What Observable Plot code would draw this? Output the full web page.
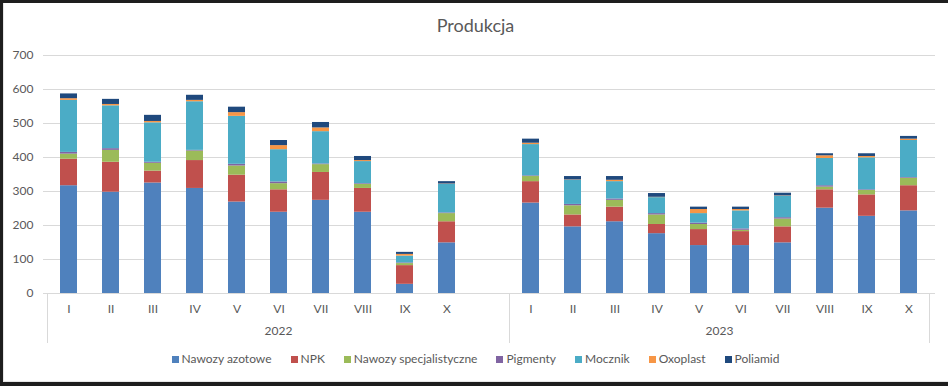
<!DOCTYPE html>
<html>
<head>
<meta charset="utf-8">
<script src="https://cdn.jsdelivr.net/npm/d3@7"></script>
<script src="https://cdn.jsdelivr.net/npm/@observablehq/plot@0.6"></script>
<style>
  html, body { margin: 0; padding: 0; }
  body { width: 948px; height: 386px; overflow: hidden; background: #1e1e1e; font-family: Lato, "Liberation Sans", sans-serif; position: relative; }
  #card { position: absolute; left: 3px; top: 3px; width: 945px; height: 379px; background: #fff; box-shadow: inset 1px 0 0 #e6e6e6, inset 0 -1px 0 #e6e6e6; }
  #title { position: absolute; left: 0; top: 11px; width: 100%; text-align: center; font-size: 18px; color: #595959; line-height: 22px; }
  #chart { position: absolute; left: 0; top: 37px; }
  #legend { position: absolute; left: 0; top: 348px; width: 100%; display: flex; justify-content: center; gap: 19px; font-size: 12px; color: #595959; line-height: 16px; }
  #legend .item { display: flex; align-items: center; gap: 3px; }
  #legend .sw { width: 7px; height: 7px; display: inline-block; }
</style>
</head>
<body>
<div id="card">
  <div id="title">Produkcja</div>
  <div id="chart"></div>
  <div id="legend"></div>
</div>
<script>
// ---- data ----
const months = ["I", "II", "III", "IV", "V", "VI", "VII", "VIII", "IX", "X"];
const years = ["2022", "2023"];
const series = ["Nawozy azotowe", "NPK", "Nawozy specjalistyczne", "Pigmenty", "Mocznik", "Oxoplast", "Poliamid"];
const colors = ["#4F81BD", "#C0504D", "#9BBB59", "#8064A2", "#4BACC6", "#F79646", "#1F497D"];
const yTicks = [0, 100, 200, 300, 400, 500, 600, 700];

// values: 2022 I..X, then 2023 I..X
const nawozyAzotowe = [317, 298, 325, 309, 269, 239, 274, 239, 27, 149, 266, 196, 211, 176, 141, 141, 149, 251, 227, 243];
const npk = [78, 88, 35, 82, 79, 66, 82, 70, 55, 62, 63, 35, 43, 27, 47, 41, 47, 54, 63, 74];
const nawozySpecjalistyczne = [15, 35, 23, 28, 27, 18, 23, 12, 6, 24, 15, 27, 20, 28, 15, 4, 23, 8, 13, 22];
const pigmenty = [5, 5, 3, 2, 5, 5, 2, 2, 2, 2, 2, 4, 4, 4, 4, 4, 4, 4, 2, 2];
const mocznik = [153, 126, 116, 143, 141, 95, 95, 65, 20, 84, 92, 71, 51, 47, 28, 53, 63, 80, 94, 109];
const oxoplast = [5, 4, 4, 4, 11, 12, 11, 3, 5, 1, 4, 1, 4, 1, 12, 4, 1, 8, 4, 4];
const poliamid = [14, 15, 18, 15, 16, 15, 16, 12, 6, 7, 12, 10, 11, 11, 7, 7, 8, 6, 8, 8];
const seriesValues = [nawozyAzotowe, npk, nawozySpecjalistyczne, pigmenty, mocznik, oxoplast, poliamid];

// category keys (2022 has one empty slot after X, as in the original)
const keys2022 = months.map(m => "2022|" + m).concat(["2022| "]);
const keys2023 = months.map(m => "2023|" + m);
const keys = keys2022.concat(keys2023);
const dataKeys = months.map(m => "2022|" + m).concat(keys2023);

const rows = [];
series.forEach((s, i) => {
  seriesValues[i].forEach((v, j) => rows.push({key: dataKeys[j], series: s, value: v}));
});

function groupAxis(index, scales, values, dimensions) {
  const sx = scales.x;
  const xf = typeof sx === "function" ? sx : sx.apply;
  const bw = typeof sx.bandwidth === "function" ? sx.bandwidth() : sx.bandwidth;
  const step = typeof sx.step === "function" ? sx.step() : sx.step;
  const sy = scales.y;
  const yf = typeof sy === "function" ? sy : sy.apply;
  const y0 = yf(0);
  const g = d3.create("svg:g");
  const groups = [keys2022, keys2023];
  const bounds = [];
  groups.forEach((ks, gi) => {
    const left = xf(ks[0]) + bw / 2 - step / 2;
    const right = xf(ks[ks.length - 1]) + bw / 2 + step / 2;
    if (gi === 0) bounds.push(left);
    bounds.push(right);
    g.append("text")
      .attr("x", (left + right) / 2)
      .attr("y", y0 + 38)
      .attr("text-anchor", "middle")
      .attr("dy", "0.35em")
      .attr("fill", "#595959")
      .attr("font-size", 12)
      .text(years[gi]);
  });
  bounds.forEach(b => {
    g.append("line")
      .attr("x1", b).attr("x2", b)
      .attr("y1", y0).attr("y2", y0 + 50)
      .attr("stroke", "#d9d9d9");
  });
  return g.node();
}

const plot = Plot.plot({
  width: 945,
  height: 310,
  marginTop: 15,
  marginBottom: 57,
  marginLeft: 40,
  marginRight: 13,
  style: {fontFamily: "Lato, 'Liberation Sans', sans-serif", fontSize: "12px", color: "#595959", background: "transparent"},
  x: {domain: keys, paddingInner: 0.59, paddingOuter: 0.295, align: 0.5, axis: null, label: null},
  y: {domain: [0, 700], axis: null, label: null},
  color: {domain: series, range: colors},
  marks: [
    Plot.gridY(yTicks, {stroke: "#d9d9d9", strokeOpacity: 1}),
    Plot.axisY(yTicks, {tickSize: 0, tickPadding: 10, fontSize: 12, fill: "#595959", label: null}),
    Plot.barY(rows, {x: "key", y: "value", fill: "series"}),
    Plot.axisX(keys, {tickSize: 0, tickPadding: 11, fontSize: 12, fill: "#595959", label: null, tickFormat: d => d.split("|")[1].trim()}),
    Plot.ruleY([0], {stroke: "#d9d9d9"}),
    groupAxis
  ]
});
document.getElementById("chart").appendChild(plot);

const legend = document.getElementById("legend");
series.forEach((s, i) => {
  const item = document.createElement("span");
  item.className = "item";
  const sw = document.createElement("span");
  sw.className = "sw";
  sw.style.background = colors[i];
  const t = document.createElement("span");
  t.textContent = s;
  item.appendChild(sw);
  item.appendChild(t);
  legend.appendChild(item);
});
</script>
</body>
</html>
